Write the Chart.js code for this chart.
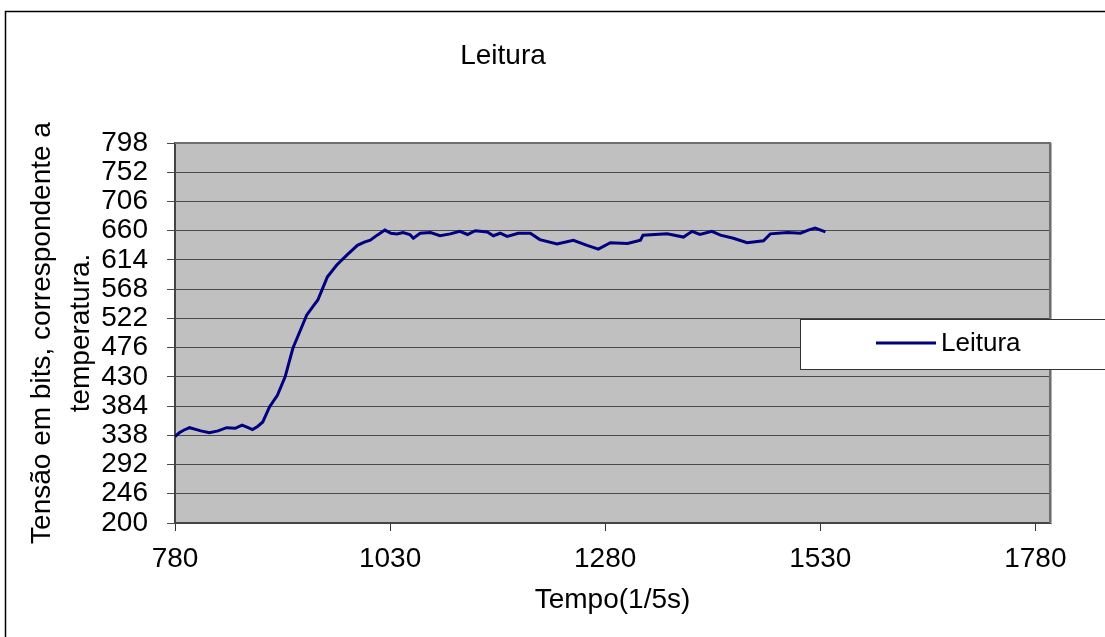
<!DOCTYPE html>
<html>
<head>
<meta charset="utf-8">
<title>Leitura</title>
<script src="https://cdn.jsdelivr.net/npm/chart.js@4.4.1/dist/chart.umd.min.js"></script>
<style>
    html, body { margin: 0; padding: 0; background: #fff; }
    #wrap { width: 1105px; height: 637px; }
</style>
</head>
<body>
<div id="wrap"><canvas id="chart" width="1105" height="637"></canvas></div>
<script>
// Data
const tempo = [780, 785, 790, 797, 805, 810, 820, 830, 840, 850, 858, 865, 870, 876, 882,
    890, 899, 908, 917, 925, 933, 940, 946, 957, 968, 980, 992, 1000, 1007, 1015,
    1024, 1031, 1038, 1045, 1053, 1057, 1065, 1077, 1088, 1100, 1111, 1120, 1129, 1143,
    1150, 1158, 1166, 1179, 1193, 1204, 1224, 1243, 1259, 1272, 1286, 1306, 1321, 1324,
    1352, 1371, 1381, 1390, 1404, 1414, 1429, 1445, 1464, 1472, 1492, 1507, 1516, 1524, 1536];
const leitura = [336, 342, 346, 350, 347, 345, 342, 345, 350, 349, 354, 350, 347, 352, 359,
    383, 401, 430, 475, 501, 527, 540, 551, 587, 606, 622, 637, 642, 645, 653,
    661, 656, 655, 657, 654, 648, 656, 657, 652, 655, 659, 654, 660, 658,
    652, 656, 651, 656, 656, 646, 639, 645, 637, 631, 641, 640, 645, 653,
    655, 650, 659, 654, 659, 653, 648, 641, 644, 655, 657, 656, 661, 664, 658];
const xTicks = [780, 1030, 1280, 1530, 1780];
const yMin = 200;
const yMax = 798;
const yStep = 46;

const FONT = '"Liberation Sans", Arial, sans-serif';

// Background, plot box, outer frame, title and legend
const excelLook = {
    id: 'excelLook',
    beforeDraw(chart) {
        const { ctx, chartArea: a } = chart;
        ctx.save();
        ctx.fillStyle = '#ffffff';
        ctx.fillRect(0, 0, chart.width, chart.height);
        ctx.fillStyle = '#c0c0c0';
        ctx.fillRect(a.left, a.top, a.right - a.left, a.bottom - a.top);
        ctx.restore();
    },
    afterDraw(chart) {
        const { ctx, chartArea: a } = chart;
        const ds = chart.data.datasets[0];
        ctx.save();

        // plot border + shadow
        ctx.strokeStyle = '#6e6e6e';
        ctx.lineWidth = 2;
        ctx.beginPath();
        ctx.moveTo(a.left, a.top);
        ctx.lineTo(a.right, a.top);
        ctx.lineTo(a.right, a.bottom);
        ctx.stroke();
        ctx.strokeStyle = '#b0b0b0';
        ctx.lineWidth = 1;
        ctx.beginPath();
        ctx.moveTo(a.right + 1.5, a.top);
        ctx.lineTo(a.right + 1.5, a.bottom + 1.5);
        ctx.stroke();

        // outer frame
        ctx.strokeStyle = '#000';
        ctx.lineWidth = 1.5;
        ctx.strokeRect(5.5, 11.5, chart.width + 20, chart.height + 20);

        // title
        ctx.fillStyle = '#000';
        ctx.font = '28px ' + FONT;
        ctx.textAlign = 'center';
        ctx.textBaseline = 'middle';
        ctx.fillText('Leitura', 503, 56);

        // legend
        ctx.fillStyle = '#fff';
        ctx.fillRect(800.5, 319.5, 340, 50);
        ctx.strokeStyle = '#333';
        ctx.lineWidth = 1;
        ctx.strokeRect(800.5, 319.5, 340, 50);
        ctx.strokeStyle = ds.borderColor;
        ctx.lineWidth = 3;
        ctx.beginPath();
        ctx.moveTo(876, 343);
        ctx.lineTo(936, 343);
        ctx.stroke();
        ctx.fillStyle = '#000';
        ctx.font = '26px ' + FONT;
        ctx.textAlign = 'left';
        ctx.fillText(ds.label, 941, 344);

        ctx.restore();
    }
};

const ctx = document.getElementById('chart');
new Chart(ctx, {
    type: 'line',
    data: {
        datasets: [{
            label: 'Leitura',
            data: tempo.map((t, i) => ({ x: t, y: leitura[i] })),
            borderColor: '#000080',
            borderWidth: 3,
            pointRadius: 0,
            tension: 0,
            fill: false
        }]
    },
    options: {
        responsive: false,
        animation: false,
        devicePixelRatio: 1,
        layout: { padding: { left: 0, top: 143, right: 55, bottom: 0 } },
        plugins: {
            legend: { display: false },
            title: { display: false },
            tooltip: { enabled: false }
        },
        scales: {
            x: {
                type: 'linear',
                min: 780,
                max: 1797,
                afterBuildTicks: (scale) => {
                    scale.ticks = xTicks.map(v => ({ value: v }));
                },
                afterFit: (scale) => { scale.height = 114; },
                grid: {
                    drawOnChartArea: false,
                    drawTicks: true,
                    tickLength: 8,
                    color: '#333'
                },
                border: { color: '#444', width: 2 },
                ticks: {
                    color: '#000',
                    padding: 11,
                    maxRotation: 0,
                    autoSkip: false,
                    font: { family: FONT, size: 28 },
                    callback: (v) => v
                },
                title: {
                    display: true,
                    text: 'Tempo(1/5s)',
                    color: '#000',
                    font: { family: FONT, size: 28 },
                    padding: { top: 0, bottom: 20 }
                }
            },
            y: {
                min: yMin,
                max: yMax,
                afterFit: (scale) => { scale.width = 175; },
                grid: {
                    color: '#4a4a4a',
                    lineWidth: 1,
                    drawTicks: true,
                    tickLength: 8
                },
                border: { color: '#444', width: 2 },
                ticks: {
                    stepSize: yStep,
                    autoSkip: false,
                    color: '#000',
                    padding: 19,
                    font: { family: FONT, size: 28 }
                },
                title: {
                    display: true,
                    text: ['Tensão em bits, correspondente a', 'temperatura.'],
                    color: '#000',
                    font: { family: FONT, size: 28, lineHeight: 1.42 },
                    padding: { top: 22, bottom: 0 }
                }
            }
        }
    },
    plugins: [excelLook]
});
</script>
</body>
</html>
